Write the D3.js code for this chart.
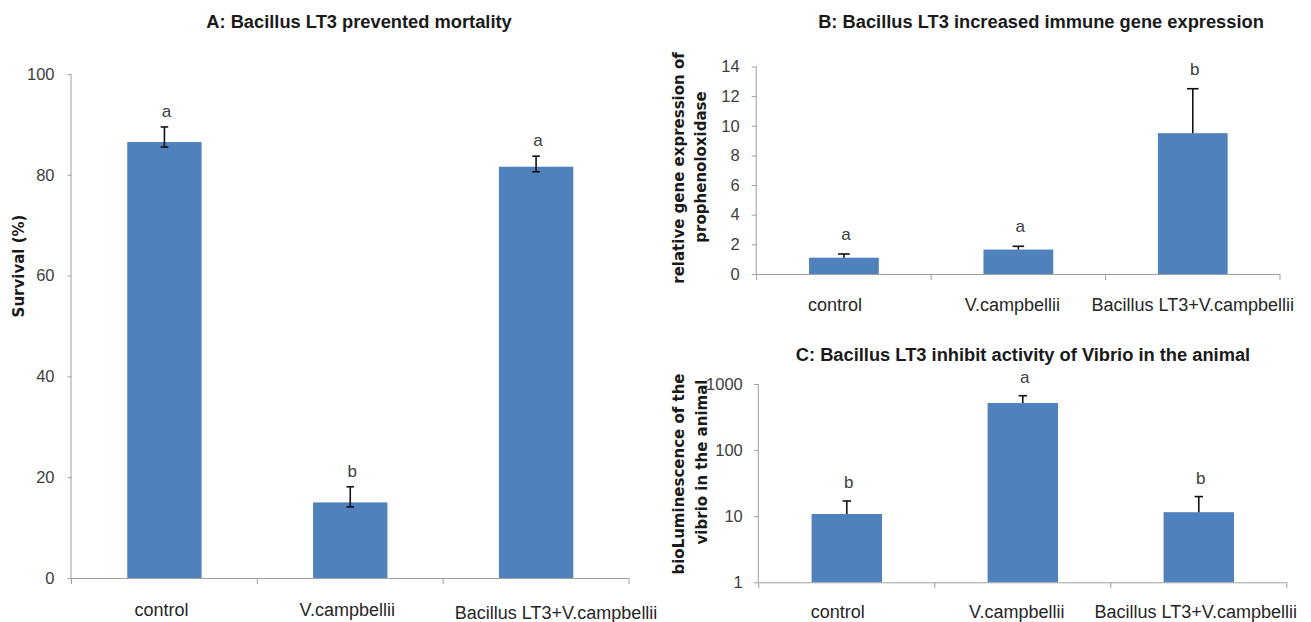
<!DOCTYPE html>
<html>
<head>
<meta charset="utf-8">
<script src="https://cdn.jsdelivr.net/npm/d3@7"></script>
<style>
  html, body { margin: 0; padding: 0; background: #fff; }
  svg { display: block; }
  .sans { font-family: "Liberation Sans", Arial, sans-serif; }
  .wide { font-family: "DejaVu Sans", "Liberation Sans", sans-serif; }
</style>
</head>
<body>
<svg id="chart" width="1311" height="622"></svg>
<script>
// ---------------- DATA ----------------
const categories = ["control", "V.campbellii", "Bacillus LT3+V.campbellii"];

// Panel A: survival (%)
const survival = [86.5, 15.0, 81.6];
const survivalErrUp = [3.0, 3.1, 2.1];
const survivalErrDown = [1.0, 0.9, 1.0];
const survivalLetters = ["a", "b", "a"];
const survivalTicks = [0, 20, 40, 60, 80, 100];

// Panel B: relative gene expression of prophenoloxidase
const geneExpr = [1.1, 1.65, 9.5];
const geneExprErrUp = [0.25, 0.22, 3.0];
const geneLetters = ["a", "a", "b"];
const geneTicks = [0, 2, 4, 6, 8, 10, 12, 14];

// Panel C: bioluminescence (log scale)
const biolum = [10.8, 515, 11.5];
const biolumErrUp = [6.2, 150, 8.3];
const biolumLetters = ["b", "a", "b"];
const biolumTicks = [1, 10, 100, 1000];

// ---------------- DRAWING ----------------
const svg = d3.select("#chart");
const BAR = "#4f81bd";
const AXIS = "#a0a0a0";
const TXT = "#404040";

function txt(g, x, y, str, size, opts = {}) {
  return g.append("text").attr("class", "sans")
    .attr("x", x).attr("y", y)
    .attr("text-anchor", opts.anchor || "middle")
    .attr("font-size", size)
    .attr("font-weight", opts.bold ? "bold" : null)
    .attr("fill", opts.fill || TXT)
    .text(str);
}

function panel(cfg) {
  const g = svg.append("g");
  const x = d3.scaleBand().domain(categories).range([cfg.left, cfg.right])
    .paddingInner(0.6).paddingOuter(0.3);
  const y = cfg.log
    ? d3.scaleLog().domain(cfg.domain).range([cfg.bottom, cfg.top])
    : d3.scaleLinear().domain(cfg.domain).range([cfg.bottom, cfg.top]);
  const base = cfg.domain[0];

  // bars
  g.selectAll("rect.bar").data(cfg.values).join("rect")
    .attr("x", (d, i) => x(categories[i]))
    .attr("width", x.bandwidth())
    .attr("y", d => y(d))
    .attr("height", d => y(base) - y(d))
    .attr("fill", BAR);

  // error bars + significance letters
  const cx = i => x(categories[i]) + x.bandwidth() / 2;
  cfg.values.forEach((v, i) => {
    const hi = v + cfg.errUp[i];
    const lo = cfg.errDown ? v - cfg.errDown[i] : v;
    g.append("line").attr("x1", cx(i)).attr("x2", cx(i))
      .attr("y1", y(lo)).attr("y2", y(hi))
      .attr("stroke", "#111").attr("stroke-width", 1.6);
    g.append("line").attr("x1", cx(i) - cfg.cap).attr("x2", cx(i) + cfg.cap)
      .attr("y1", y(hi)).attr("y2", y(hi))
      .attr("stroke", "#111").attr("stroke-width", 1.6);
    if (cfg.errDown) {
      g.append("line").attr("x1", cx(i) - cfg.cap).attr("x2", cx(i) + cfg.cap)
        .attr("y1", y(lo)).attr("y2", y(lo))
        .attr("stroke", "#111").attr("stroke-width", 1.6);
    }
    txt(g, cx(i) + 2, y(hi) - cfg.letterGap, cfg.letters[i], 17);
  });

  // y axis
  const yAxis = d3.axisLeft(y).tickValues(cfg.ticks).tickSize(cfg.tickSize).tickPadding(cfg.tickPad)
    .tickFormat(d3.format("d"));
  const ya = g.append("g").attr("transform", `translate(${cfg.left},0)`).call(yAxis);
  ya.attr("font-family", null).attr("font-size", null);
  ya.select(".domain").attr("stroke", AXIS).attr("d", `M-0.5,${cfg.bottom}V${cfg.top}`);
  ya.selectAll(".tick line").attr("stroke", AXIS);
  ya.selectAll(".tick text").attr("class", "sans").attr("font-size", 16.5).attr("fill", TXT);

  // x axis
  const xa = g.append("g");
  xa.append("line").attr("x1", cfg.left).attr("x2", cfg.right)
    .attr("y1", cfg.bottom + 0.5).attr("y2", cfg.bottom + 0.5).attr("stroke", AXIS);
  const step = x.step();
  d3.range(categories.length + 1).forEach(i => {
    const tx = cfg.left + i * step;
    xa.append("line").attr("x1", tx).attr("x2", tx)
      .attr("y1", cfg.bottom).attr("y2", cfg.bottom + 6).attr("stroke", AXIS);
  });
  categories.forEach((c, i) => {
    txt(xa, x(c) + x.bandwidth() / 2 + cfg.catShift[i], cfg.catY[i], c, 18, { fill: "#262626" });
  });

  // title
  txt(g, cfg.titleX, cfg.titleY, cfg.title, 18.3, { bold: true, fill: "#1a1a1a" });

  // y label (rotated)
  cfg.ylabel.forEach((line, k) => {
    g.append("text").attr("class", "wide")
      .attr("transform", `translate(${cfg.ylabelX[k]},${cfg.ylabelY[k]}) rotate(-90)`)
      .attr("text-anchor", "middle").attr("font-size", 15).attr("font-weight", "bold")
      .attr("fill", "#1a1a1a").text(line);
  });
}

panel({
  values: survival, errUp: survivalErrUp, errDown: survivalErrDown, letters: survivalLetters,
  ticks: survivalTicks, domain: [0, 100], log: false,
  left: 71.5, right: 629, top: 74, bottom: 578, cap: 3.8, letterGap: 10, tickSize: 4, tickPad: 13,
  catY: [616, 616, 619], catShift: [-3, -3, 20],
  title: "A: Bacillus LT3 prevented mortality", titleX: 359, titleY: 28,
  ylabel: ["Survival (%)"], ylabelX: [24], ylabelY: [266]
});

panel({
  values: geneExpr, errUp: geneExprErrUp, letters: geneLetters,
  ticks: geneTicks, domain: [0, 14], log: false,
  left: 756.7, right: 1280, top: 66.5, bottom: 274, cap: 5.8, letterGap: 14, tickSize: 5, tickPad: 12,
  catY: [311, 311, 311], catShift: [-9, -6, 0],
  title: "B: Bacillus LT3 increased immune gene expression", titleX: 1041, titleY: 28,
  ylabel: ["relative gene expression of", "prophenoloxidase"], ylabelX: [684, 706], ylabelY: [168, 167]
});

panel({
  values: biolum, errUp: biolumErrUp, letters: biolumLetters,
  ticks: biolumTicks, domain: [1, 1000], log: true,
  left: 758.8, right: 1286.8, top: 384, bottom: 582.3, cap: 4.2, letterGap: 13, tickSize: 5, tickPad: 11,
  catY: [618, 618, 618], catShift: [-9, -6, -3],
  title: "C: Bacillus LT3 inhibit activity of Vibrio in the animal", titleX: 1023, titleY: 361,
  ylabel: ["bioLuminescence of the", "vibrio in the animal"], ylabelX: [684, 707], ylabelY: [474, 462]
});
</script>
</body>
</html>
